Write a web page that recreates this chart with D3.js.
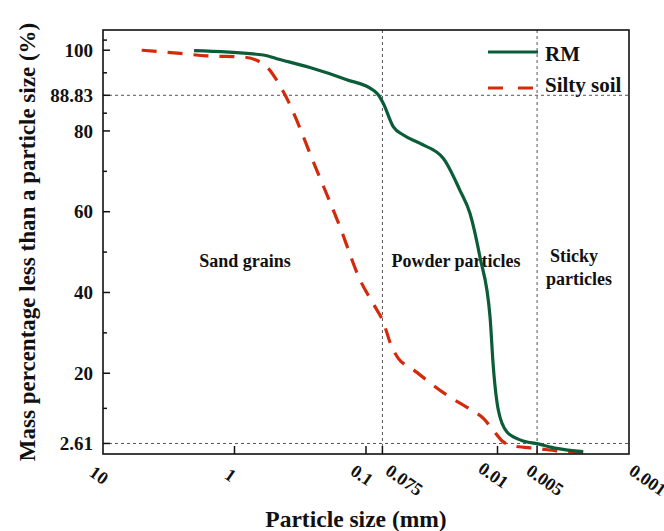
<!DOCTYPE html>
<html lang="en">
<head>
    <meta charset="UTF-8">
    <title>particle size distribution</title>
    <script src="https://cdn.jsdelivr.net/npm/d3@7.8.5/dist/d3.min.js"></script>
    <style>
        body { margin: 0; background: #fff; }
        text { font-family: "Liberation Serif", "Times New Roman", serif; font-weight: bold; fill: #111; }
    </style>
</head>
<body>
<div id="chart"></div>
<script type="text/javascript">
    // particle size (mm) and mass percentage passing
    const rmSize = [2.03, 0.604, 0.478, 0.267, 0.140, 0.088, 0.0805, 0.0738, 0.0619, 0.052, 0.0388, 0.0258,
        0.0193, 0.0162, 0.0136, 0.0114, 0.01076, 0.00986, 0.0085, 0.00674, 0.0049, 0.00355, 0.00223];
    const rmPass = [99.9, 98.8, 97.9, 95.7, 92.7, 90.1, 88.9, 86.8, 81.0, 79.0, 76.9, 73.2,
        65.3, 59.6, 48.8, 34.0, 21.6, 10.9, 5.5, 3.5, 2.5, 1.4, 0.6];

    const soilSize = [5.08, 2.59, 1.63, 0.857, 0.678, 0.569, 0.425, 0.237, 0.158, 0.111, 0.0855, 0.075,
        0.0638, 0.0568, 0.045, 0.0243, 0.0162, 0.0128, 0.01107, 0.00904, 0.00758, 0.00504, 0.00335, 0.00198];
    const soilPass = [100, 99.2, 98.6, 98.3, 97.5, 95.9, 89.7, 70.3, 56.3, 43.1, 36.5, 33.2,
        26.6, 23.7, 21.2, 14.6, 11.1, 8.8, 6.4, 3.0, 2.0, 1.4, 0.7, 0.4];

    const xTicks = [10, 1, 0.1, 0.075, 0.01, 0.005, 0.001];
    const xTickLabels = ['10', '1', '0.1', '0.075', '0.01', '0.005', '0.001'];
    const yTicks = [2.61, 20, 40, 60, 80, 88.83, 100];
    const yMinor = [11.3, 30, 50, 70, 84.4, 94.4, 102.5];
    const refSizes = [0.075, 0.005];
    const refPass = [88.83, 2.61];
    const zones = ['Sand grains', 'Powder particles', 'Sticky particles'];
    const seriesNames = ['RM', 'Silty soil'];

    const width = 664, height = 531;
    const margin = {top: 30, right: 35, bottom: 77, left: 103};
    const green = '#0b5c38', red = '#d42a0c';
    // horizontal nudge of the slanted x labels (label centre relative to tick)
    const labelShift = {'0.075': 22, '0.005': 8, '0.001': 19};

    const x = d3.scaleLog().domain([10, 0.001]).range([margin.left, width - margin.right]);
    const y = d3.scaleLinear().domain([0, 105]).range([height - margin.bottom, margin.top]);
    const x0 = x.range()[0], x1 = x.range()[1], y0 = y.range()[0], y1 = y.range()[1];

    const svg = d3.select('#chart')
        .append('svg')
        .attr('width', width)
        .attr('height', height);

    // reference dashed lines
    const guides = svg.append('g').attr('stroke', '#555').attr('stroke-width', 1).attr('stroke-dasharray', '3,3');
    refSizes.forEach(function (d) {
        guides.append('line').attr('x1', x(d)).attr('x2', x(d)).attr('y1', y1).attr('y2', y0);
    });
    refPass.forEach(function (d) {
        guides.append('line').attr('x1', x0).attr('x2', x1).attr('y1', y(d)).attr('y2', y(d));
    });

    // zone labels
    svg.append('text').attr('x', 245).attr('y', 267).attr('text-anchor', 'middle').attr('font-size', 18).text(zones[0]);
    svg.append('text').attr('x', 456).attr('y', 267).attr('text-anchor', 'middle').attr('font-size', 18).text(zones[1]);
    const sticky = zones[2].split(' ');
    svg.append('text').attr('x', 574).attr('y', 262).attr('text-anchor', 'middle').attr('font-size', 18).text(sticky[0]);
    svg.append('text').attr('x', 579).attr('y', 285).attr('text-anchor', 'middle').attr('font-size', 18).text(sticky[1]);

    // curves
    const line = d3.line()
        .x(function (d) { return x(d[0]); })
        .y(function (d) { return y(d[1]); })
        .curve(d3.curveMonotoneX);

    const rmData = d3.zip(rmSize, rmPass);
    const soilData = d3.zip(soilSize, soilPass);

    svg.append('path').attr('d', line(soilData))
        .attr('fill', 'none').attr('stroke', red).attr('stroke-width', 3.2)
        .attr('stroke-dasharray', '15,11');
    svg.append('path').attr('d', line(rmData))
        .attr('fill', 'none').attr('stroke', green).attr('stroke-width', 3.2);

    // frame
    svg.append('rect').attr('x', x0).attr('y', y1).attr('width', x1 - x0).attr('height', y0 - y1)
        .attr('fill', 'none').attr('stroke', '#111').attr('stroke-width', 1.6);

    // y ticks (inward)
    const yAxis = svg.append('g');
    yTicks.forEach(function (d) {
        yAxis.append('line').attr('x1', x0).attr('x2', x0 + 7).attr('y1', y(d)).attr('y2', y(d))
            .attr('stroke', '#111').attr('stroke-width', 1.5);
        yAxis.append('text').attr('x', x0 - 10).attr('y', y(d)).attr('dy', '0.35em')
            .attr('text-anchor', 'end').attr('font-size', 19).text(d);
    });
    yMinor.forEach(function (d) {
        yAxis.append('line').attr('x1', x0).attr('x2', x0 + 4).attr('y1', y(d)).attr('y2', y(d))
            .attr('stroke', '#111').attr('stroke-width', 1.5);
    });

    // x ticks (inward) with slanted labels centred below
    const xAxis = svg.append('g');
    xTicks.forEach(function (d, i) {
        if (d !== 10 && d !== 0.001) {
            xAxis.append('line').attr('x1', x(d)).attr('x2', x(d)).attr('y1', y0).attr('y2', y0 - 8)
                .attr('stroke', '#111').attr('stroke-width', 1.5);
        }
        const lab = xTickLabels[i];
        const cx = x(d) + (labelShift[lab] !== undefined ? labelShift[lab] : -4);
        const cy = y0 + 21 + (lab.length >= 5 ? 5 : 0);
        xAxis.append('text')
            .attr('transform', `translate(${cx},${cy}) rotate(35)`)
            .attr('text-anchor', 'middle').attr('dy', '0.35em')
            .attr('font-size', 18).text(lab);
    });

    // axis titles
    svg.append('text').attr('x', 356).attr('y', 527).attr('text-anchor', 'middle')
        .attr('font-size', 23.5).text('Particle size (mm)');
    svg.append('text').attr('transform', 'translate(35,242) rotate(-90)').attr('text-anchor', 'middle')
        .attr('font-size', 23).text('Mass percentage less than a particle size (%)');

    // legend
    const legend = svg.append('g');
    legend.append('line').attr('x1', 488).attr('x2', 538).attr('y1', 52).attr('y2', 52)
        .attr('stroke', green).attr('stroke-width', 3.2);
    legend.append('line').attr('x1', 488).attr('x2', 533).attr('y1', 88).attr('y2', 88)
        .attr('stroke', red).attr('stroke-width', 3.2).attr('stroke-dasharray', '15,15');
    legend.append('text').attr('x', 545).attr('y', 61).attr('font-size', 21).text(seriesNames[0]);
    legend.append('text').attr('x', 545).attr('y', 92).attr('font-size', 21).text(seriesNames[1]);
</script>
</body>
</html>
